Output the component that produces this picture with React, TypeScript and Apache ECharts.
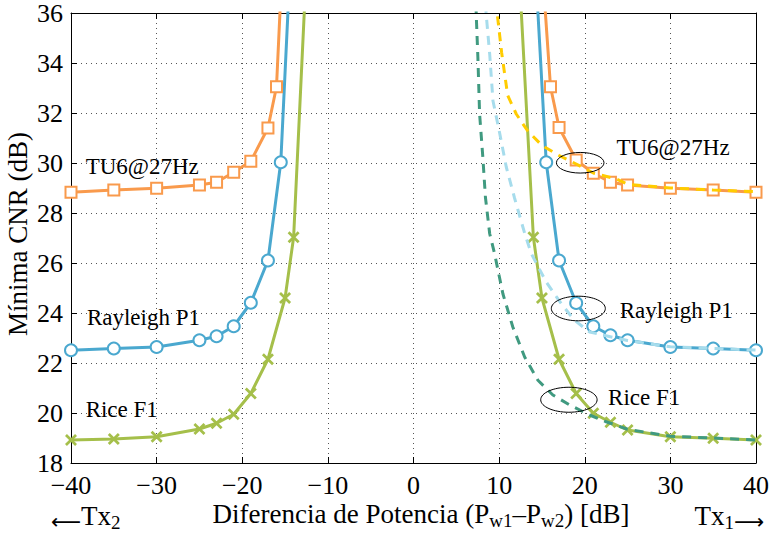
import React, { useEffect, useRef } from 'react';
import * as echarts from 'echarts';

const FONT = "'Liberation Serif', 'Times New Roman', serif";

const X_MIN = -40;
const X_MAX = 40;
const X_INTERVAL = 10;
const Y_MIN = 18;
const Y_MAX = 36;
const Y_INTERVAL = 2;

// Simulated curves (with markers)
const tu6LeftX = [-40, -35, -30, -25, -23, -21, -19, -17, -16, -15];
const tu6LeftY = [28.83, 28.92, 28.99, 29.12, 29.23, 29.63, 30.07, 31.4, 33.05, 40.4];
const tu6RightX = [15, 16, 17, 19, 21, 23, 25, 30, 35, 40];
const tu6RightY = [38.0, 33.05, 31.42, 30.12, 29.59, 29.23, 29.12, 28.99, 28.92, 28.83];

const rayLeftX = [-40, -35, -30, -25, -23, -21, -19, -17, -15.5, -14];
const rayLeftY = [22.51, 22.58, 22.64, 22.91, 23.07, 23.47, 24.41, 26.1, 30.03, 40.8];
const rayRightX = [14, 15.5, 17, 19, 21, 23, 25, 30, 35, 40];
const rayRightY = [39.3, 30.03, 26.1, 24.4, 23.47, 23.11, 22.91, 22.64, 22.58, 22.51];

const riceLeftX = [-40, -35, -30, -25, -23, -21, -19, -17, -15, -14, -12];
const riceLeftY = [18.92, 18.96, 19.05, 19.36, 19.59, 19.95, 20.78, 22.15, 24.6, 27.03, 41.5];
const riceRightX = [12, 14, 15, 17, 19, 21, 23, 25, 30, 35, 40];
const riceRightY = [39.8, 27.03, 24.6, 22.15, 20.78, 19.99, 19.63, 19.32, 19.05, 18.99, 18.92];

// Theoretical curves (dashed, no markers)
const tu6TheoryX = [9.6, 10.3, 11.0, 12.0, 13.3, 15.0, 17.0, 19.0, 21.0, 23.7, 25, 30, 35, 40];
const tu6TheoryY = [36.5, 34.4, 32.7, 31.96, 31.3, 30.7, 30.3, 29.96, 29.6, 29.36, 29.15, 29.0, 28.92, 28.85];

const rayTheoryX = [8.3, 8.5, 8.9, 9.28, 10.06, 10.84, 11.8, 13.0, 13.76, 15.5, 17.26, 18.8, 20.57, 23, 25, 30, 35, 40];
const rayTheoryY = [37, 35.9, 34.35, 32.49, 31.2, 29.83, 28.6, 27.17, 26.37, 25.24, 24.37, 23.71, 23.24, 23.05, 22.9, 22.65, 22.58, 22.52];

const riceTheoryX = [7.25, 7.33, 7.52, 7.72, 8.1, 8.4, 8.9, 9.47, 10.44, 11.6, 12.98, 14.53, 16.28, 18.24, 20.57, 22.5, 25, 30, 35, 40];
const riceTheoryY = [37, 35.9, 34.22, 31.96, 30.22, 28.63, 27.17, 26.37, 24.77, 23.44, 22.24, 21.31, 20.72, 20.32, 19.92, 19.65, 19.35, 19.07, 19.0, 18.92];

const ORANGE = '#F99A4C';
const BLUE = '#4AA8CF';
const GREEN = '#A5BF4A';
const YELLOW = '#FFCC00';
const LIGHTBLUE = '#A6DCEC';
const DARKGREEN = '#409A80';

const labels = [
  { text: 'TU6@27Hz', x: -38.29, y: 29.87 },
  { text: 'Rayleigh P1', x: -38.14, y: 23.81 },
  { text: 'Rice F1', x: -38.29, y: 20.16 },
  { text: 'TU6@27Hz', x: 23.7, y: 30.62 },
  { text: 'Rayleigh P1', x: 24.09, y: 24.09 },
  { text: 'Rice F1', x: 22.72, y: 20.62 },
];

const ellipses = [
  { x: 19.47, y: 30.01, rx: 23.8, ry: 10.3 },
  { x: 19.25, y: 24.18, rx: 27, ry: 12.3 },
  { x: 18.15, y: 20.53, rx: 28.2, ry: 12.5 },
];

const CROSS = 'path://M0,1.6L1.6,0L5,3.4L8.4,0L10,1.6L6.6,5L10,8.4L8.4,10L5,6.6L1.6,10L0,8.4L3.4,5Z';

function pairs(xs: number[], ys: number[]) {
  return xs.map((x, i) => (ys[i] > Y_MAX ? { value: [x, ys[i]], symbol: 'none' } : [x, ys[i]]));
}

function fmt(v: number) {
  return v < 0 ? '\u2212' + Math.abs(v) : String(v);
}

function solid(name: string, xs: number[], ys: number[], color: string, symbol: string, size: number) {
  const isCross = symbol === CROSS;
  return {
    name,
    type: 'line',
    data: pairs(xs, ys),
    symbol,
    symbolSize: size,
    showSymbol: true,
    lineStyle: { color, width: 3 },
    itemStyle: isCross ? { color, borderWidth: 0 } : { color, borderColor: color, borderWidth: 2.5 },
    z: 2,
  };
}

function dashed(name: string, xs: number[], ys: number[], color: string) {
  return {
    name,
    type: 'line',
    data: xs.map((x, i) => [x, ys[i]]),
    symbol: 'none',
    lineStyle: { color, width: 3, type: [9, 7] },
    z: 3,
  };
}

export default function App() {
  const ref = useRef<HTMLDivElement>(null);
  useEffect(() => {
    if (!ref.current) return;
    const chart = echarts.init(ref.current, undefined, { renderer: 'svg' });
    const axisCommon = {
      type: 'value',
      axisLine: { show: true, onZero: false, lineStyle: { color: '#000', width: 1 } },
      axisTick: { show: true, inside: true, length: 6, lineStyle: { color: '#000' } },
    };
    const option: any = {
      animation: false,
      backgroundColor: '#fff',
      grid: { left: 71, right: 16, top: 12, bottom: 77, containLabel: false },
      xAxis: [
        {
          ...axisCommon,
          min: X_MIN,
          max: X_MAX,
          interval: X_INTERVAL,
          position: 'bottom',
          axisLabel: { formatter: fmt, fontFamily: FONT, fontSize: 26, lineHeight: 18, color: '#000', margin: 13 },
          splitLine: { show: true, lineStyle: { color: '#555', width: 1, type: [1, 4] } },
        },
        {
          ...axisCommon,
          min: X_MIN,
          max: X_MAX,
          interval: X_INTERVAL,
          position: 'top',
          axisLabel: { show: false },
          splitLine: { show: false },
        },
      ],
      yAxis: [
        {
          ...axisCommon,
          min: Y_MIN,
          max: Y_MAX,
          interval: Y_INTERVAL,
          position: 'left',
          axisLabel: { fontFamily: FONT, fontSize: 26, lineHeight: 18, color: '#000', margin: 8 },
          splitLine: { show: true, lineStyle: { color: '#555', width: 1, type: [1, 4] } },
        },
        {
          ...axisCommon,
          min: Y_MIN,
          max: Y_MAX,
          interval: Y_INTERVAL,
          position: 'right',
          axisLabel: { show: false },
          splitLine: { show: false },
        },
      ],
      series: [
        solid('TU6 L', tu6LeftX, tu6LeftY, ORANGE, 'emptyRect', 11),
        solid('TU6 R', tu6RightX, tu6RightY, ORANGE, 'emptyRect', 11),
        solid('Ray L', rayLeftX, rayLeftY, BLUE, 'emptyCircle', 12),
        solid('Ray R', rayRightX, rayRightY, BLUE, 'emptyCircle', 12),
        solid('Rice L', riceLeftX, riceLeftY, GREEN, CROSS, 12),
        solid('Rice R', riceRightX, riceRightY, GREEN, CROSS, 12),
        dashed('TU6 T', tu6TheoryX, tu6TheoryY, YELLOW),
        dashed('Ray T', rayTheoryX, rayTheoryY, LIGHTBLUE),
        dashed('Rice T', riceTheoryX, riceTheoryY, DARKGREEN),
      ],
    };
    chart.setOption(option);

    const toPx = (x: number, y: number) => chart.convertToPixel({ xAxisIndex: 0, yAxisIndex: 0 }, [x, y]) as number[];
    const graphics: any[] = [];
    labels.forEach((l) => {
      const p = toPx(l.x, l.y);
      graphics.push({
        type: 'text',
        x: p[0],
        y: p[1],
        z: 10,
        style: { text: l.text, font: `23px ${FONT}`, fill: '#000', align: 'left', verticalAlign: 'middle' },
      });
    });
    ellipses.forEach((e) => {
      const p = toPx(e.x, e.y);
      graphics.push({
        type: 'ellipse',
        z: 10,
        shape: { cx: p[0], cy: p[1], rx: e.rx, ry: e.ry },
        style: { fill: 'none', stroke: '#000', lineWidth: 1 },
      });
    });
    const rich = {
      m: { fontFamily: FONT, fontSize: 27, lineHeight: 32, fill: '#000' },
      s: { fontFamily: FONT, fontSize: 19, lineHeight: 18, verticalAlign: 'bottom', fill: '#000' },
      a: { fontFamily: "'DejaVu Sans'", fontSize: 21, lineHeight: 24, verticalAlign: 'bottom', fill: '#000' },
    };
    graphics.push({
      type: 'text',
      x: 421,
      y: 514,
      style: {
        text: '{m|Diferencia de Potencia (P}{s|w1}{m|\u2013P}{s|w2}{m|) [dB]}',
        rich,
        align: 'center',
        verticalAlign: 'middle',
      },
    });
    graphics.push({
      type: 'text',
      x: 51,
      y: 516,
      style: { text: '{a|\u27F5}{m|Tx}{s|2}', rich, align: 'left', verticalAlign: 'middle' },
    });
    graphics.push({
      type: 'text',
      x: 764,
      y: 516,
      style: { text: '{m|Tx}{s|1}{a|\u27F6}', rich, align: 'right', verticalAlign: 'middle' },
    });
    graphics.push({
      type: 'text',
      x: 18,
      y: 234,
      rotation: Math.PI / 2,
      style: { text: 'M\u00ednima CNR (dB)', font: `27px ${FONT}`, fill: '#000', align: 'center', verticalAlign: 'middle' },
    });
    chart.setOption({ graphic: graphics });

    return () => chart.dispose();
  }, []);
  return <div ref={ref} style={{ position: 'fixed', left: 0, top: 0, width: 772, height: 540, background: '#fff' }} />;
}
